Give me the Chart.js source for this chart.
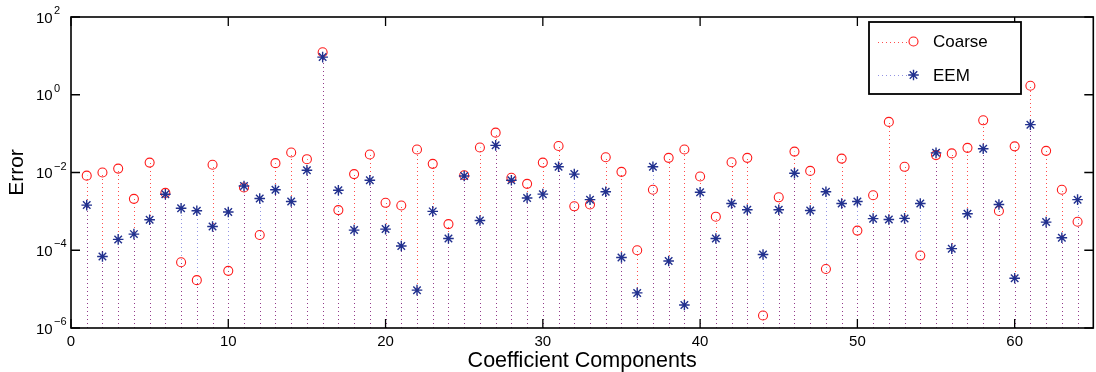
<!DOCTYPE html>
<html>
<head>
<meta charset="utf-8">
<title>Coefficient error</title>
<script src="https://cdn.jsdelivr.net/npm/chart.js@4.4.1/dist/chart.umd.min.js"></script>
<style>
  html, body { margin: 0; padding: 0; background: #fff; overflow: hidden; }
  #wrap { position: relative; width: 1100px; height: 372px; }
</style>
</head>
<body>
<div id="wrap"><canvas id="chart"></canvas></div>
<script>
// Component index (x) and per-component error for each method
const components = [1, 2, 3, 4, 5, 6, 7, 8, 9, 10, 11, 12, 13, 14, 15, 16,
  17, 18, 19, 20, 21, 22, 23, 24, 25, 26, 27, 28, 29, 30, 31, 32,
  33, 34, 35, 36, 37, 38, 39, 40, 41, 42, 43, 44, 45, 46, 47, 48,
  49, 50, 51, 52, 53, 54, 55, 56, 57, 58, 59, 60, 61, 62, 63, 64];

const coarseError = [
  8.3e-3, 1.0e-2, 1.26e-2, 2.1e-3, 1.8e-2, 3.0e-3, 4.9e-5, 1.7e-5, 1.58e-2, 2.95e-5,
  4.1e-3, 2.47e-4, 1.74e-2, 3.27e-2, 2.2e-2, 12.4, 1.08e-3, 9.1e-3, 2.9e-2, 1.66e-3,
  1.42e-3, 3.9e-2, 1.67e-2, 4.7e-4, 8.5e-3, 4.4e-2, 0.106, 7.3e-3, 5.1e-3, 1.8e-2,
  4.8e-2, 1.35e-3, 1.5e-3, 2.46e-2, 1.04e-2, 1.0e-4, 3.6e-3, 2.38e-2, 3.9e-2, 7.9e-3,
  7.3e-4, 1.83e-2, 2.38e-2, 2.1e-6, 2.3e-3, 3.45e-2, 1.1e-2, 3.3e-5, 2.28e-2, 3.2e-4,
  2.6e-3, 0.2, 1.4e-2, 7.3e-5, 2.8e-2, 3.1e-2, 4.3e-2, 0.22, 1.02e-3, 4.7e-2,
  1.7, 3.6e-2, 3.6e-3, 5.4e-4
];

const eemError = [
  1.45e-3, 6.9e-5, 1.9e-4, 2.6e-4, 6.1e-4, 2.75e-3, 1.2e-3, 1.04e-3, 4.1e-4, 9.6e-4,
  4.5e-3, 2.15e-3, 3.6e-3, 1.8e-3, 1.14e-2, 9.3, 3.5e-3, 3.3e-4, 6.3e-3, 3.5e-4,
  1.29e-4, 9.4e-6, 1.0e-3, 2.0e-4, 8.1e-3, 5.8e-4, 5.0e-2, 6.3e-3, 2.2e-3, 2.77e-3,
  1.4e-2, 9.1e-3, 2.0e-3, 3.2e-3, 6.5e-5, 8e-6, 1.4e-2, 5.3e-5, 3.9e-6, 3.1e-3,
  2.0e-4, 1.6e-3, 1.1e-3, 7.8e-5, 1.1e-3, 9.6e-3, 1.05e-3, 3.2e-3, 1.6e-3, 1.8e-3,
  6.5e-4, 6.2e-4, 6.6e-4, 1.6e-3, 3.2e-2, 1.1e-4, 8.7e-4, 4.1e-2, 1.5e-3, 1.9e-5,
  0.17, 5.3e-4, 2.1e-4, 2.0e-3
];

const xTickValues = [0, 10, 20, 30, 40, 50, 60];
const yTickExponents = [2, 0, -2, -4, -6];

const FONT = '"Liberation Sans", Arial, Helvetica, sans-serif';
const RED = '#ff1a1a';
const NAVY = '#22318f';
const RED_STEM = 'rgba(255, 0, 0, 0.7)';
const NAVY_STEM = 'rgba(40, 40, 200, 0.5)';

function toPoints(values) {
  return components.map((c, i) => ({ x: c, y: values[i] }));
}

// Draws an 8-armed asterisk marker
function drawAsterisk(ctx, x, y, r) {
  const d = r * Math.SQRT1_2;
  ctx.beginPath();
  ctx.moveTo(x - r, y); ctx.lineTo(x + r, y);
  ctx.moveTo(x, y - r); ctx.lineTo(x, y + r);
  ctx.moveTo(x - d, y - d); ctx.lineTo(x + d, y + d);
  ctx.moveTo(x - d, y + d); ctx.lineTo(x + d, y - d);
  ctx.stroke();
}

// Dotted stems from the bottom of the axes up to each marker
const stemPlugin = {
  id: 'stems',
  beforeDatasetsDraw(chart) {
    const { ctx, chartArea, scales } = chart;
    ctx.save();
    ctx.beginPath();
    ctx.rect(chartArea.left, chartArea.top, chartArea.right - chartArea.left, chartArea.bottom - chartArea.top);
    ctx.clip();
    ctx.lineWidth = 1;
    ctx.setLineDash([1, 3]);
    chart.data.datasets.forEach(ds => {
      ctx.strokeStyle = ds.stemColor;
      ds.data.forEach(p => {
        const px = Math.round(scales.x.getPixelForValue(p.x)) + 0.5;
        const py = scales.y.getPixelForValue(p.y);
        ctx.beginPath();
        ctx.moveTo(px, chartArea.bottom);
        ctx.lineTo(px, py);
        ctx.stroke();
      });
    });
    ctx.restore();
  }
};

// Axes box, inward tick marks and superscripted log tick labels
const framePlugin = {
  id: 'frame',
  afterDatasetsDraw(chart) {
    const { ctx, chartArea, scales } = chart;
    const { left, right, top, bottom } = chartArea;
    const tl = 9;
    ctx.save();
    ctx.strokeStyle = '#000';
    ctx.lineWidth = 1.6;
    ctx.strokeRect(left, top, right - left, bottom - top);
    ctx.lineWidth = 1.3;
    ctx.beginPath();
    xTickValues.forEach(v => {
      const x = scales.x.getPixelForValue(v);
      ctx.moveTo(x, bottom); ctx.lineTo(x, bottom - tl);
      ctx.moveTo(x, top); ctx.lineTo(x, top + tl);
    });
    yTickExponents.forEach(e => {
      const y = scales.y.getPixelForValue(Math.pow(10, e));
      ctx.moveTo(left, y); ctx.lineTo(left + tl, y);
      ctx.moveTo(right, y); ctx.lineTo(right - tl, y);
    });
    ctx.stroke();

    ctx.fillStyle = '#000';
    ctx.textAlign = 'left';
    ctx.textBaseline = 'alphabetic';
    yTickExponents.forEach(e => {
      const y = scales.y.getPixelForValue(Math.pow(10, e));
      ctx.font = '15px ' + FONT;
      ctx.fillText('10', 36, y + 5.5);
      ctx.font = '11px ' + FONT;
      ctx.fillText(String(e).replace('-', '\u2212'), 54, y - 3);
    });
    ctx.restore();
  }
};

// Boxed legend with a dotted line sample and the marker of each series
const legendPlugin = {
  id: 'stemLegend',
  afterDraw(chart) {
    const { ctx } = chart;
    const bx = 869, by = 22, bw = 152, bh = 72;
    ctx.save();
    ctx.fillStyle = '#fff';
    ctx.fillRect(bx, by, bw, bh);
    ctx.strokeStyle = '#000';
    ctx.lineWidth = 1.8;
    ctx.strokeRect(bx, by, bw, bh);
    const rows = [41.5, 75];
    chart.data.datasets.forEach((ds, i) => {
      const y = rows[i];
      ctx.strokeStyle = ds.stemColor;
      ctx.lineWidth = 1;
      ctx.setLineDash([1, 3]);
      ctx.beginPath();
      ctx.moveTo(878, Math.round(y) + 0.5);
      ctx.lineTo(908, Math.round(y) + 0.5);
      ctx.stroke();
      ctx.setLineDash([]);
      ctx.strokeStyle = ds.borderColor;
      ctx.lineWidth = ds.borderWidth;
      if (ds.pointStyle === 'circle') {
        ctx.beginPath();
        ctx.arc(913.5, y, ds.pointRadius, 0, Math.PI * 2);
        ctx.stroke();
      } else {
        drawAsterisk(ctx, 913.5, y, ds.pointRadius);
      }
      ctx.fillStyle = '#000';
      ctx.font = '17px ' + FONT;
      ctx.textAlign = 'left';
      ctx.textBaseline = 'middle';
      ctx.fillText(ds.label, 933, y + 1);
    });
    ctx.restore();
  }
};

new Chart(document.getElementById('chart'), {
  type: 'scatter',
  data: {
    datasets: [
      {
        label: 'Coarse',
        data: toPoints(coarseError),
        pointStyle: 'circle',
        pointRadius: 4.5,
        borderColor: RED,
        backgroundColor: 'rgba(0,0,0,0)',
        borderWidth: 1.1,
        stemColor: RED_STEM,
        showLine: false,
        order: 1
      },
      {
        label: 'EEM',
        data: toPoints(eemError),
        pointStyle: 'star',
        pointRadius: 5.3,
        borderColor: NAVY,
        backgroundColor: NAVY,
        borderWidth: 1.4,
        stemColor: NAVY_STEM,
        showLine: false,
        order: 0
      }
    ]
  },
  options: {
    responsive: true,
    maintainAspectRatio: false,
    animation: false,
    events: [],
    layout: { padding: { left: 0, right: 1, top: 17, bottom: 0 } },
    plugins: {
      legend: { display: false },
      tooltip: { enabled: false }
    },
    scales: {
      x: {
        type: 'linear',
        min: 0,
        max: 65,
        afterBuildTicks(scale) { scale.ticks = xTickValues.map(v => ({ value: v })); },
        afterFit(scale) { scale.height = 44; },
        grid: { display: false, drawTicks: false },
        border: { display: false },
        ticks: { color: '#000', font: { family: FONT, size: 15 }, padding: 5, maxRotation: 0 },
        title: {
          display: true,
          text: 'Coefficient Components',
          color: '#000',
          font: { family: FONT, size: 21.5 },
          padding: { top: 0, bottom: -2 }
        }
      },
      y: {
        type: 'logarithmic',
        min: 1e-6,
        max: 1e2,
        afterBuildTicks(scale) { scale.ticks = yTickExponents.map(e => ({ value: Math.pow(10, e) })); },
        afterFit(scale) { scale.width = 71; },
        grid: { display: false, drawTicks: false },
        border: { display: false },
        ticks: { display: false },
        title: {
          display: true,
          text: 'Error',
          color: '#000',
          font: { family: FONT, size: 21 },
          padding: { top: 5, bottom: 0 }
        }
      }
    }
  },
  plugins: [stemPlugin, framePlugin, legendPlugin]
});
</script>
</body>
</html>
